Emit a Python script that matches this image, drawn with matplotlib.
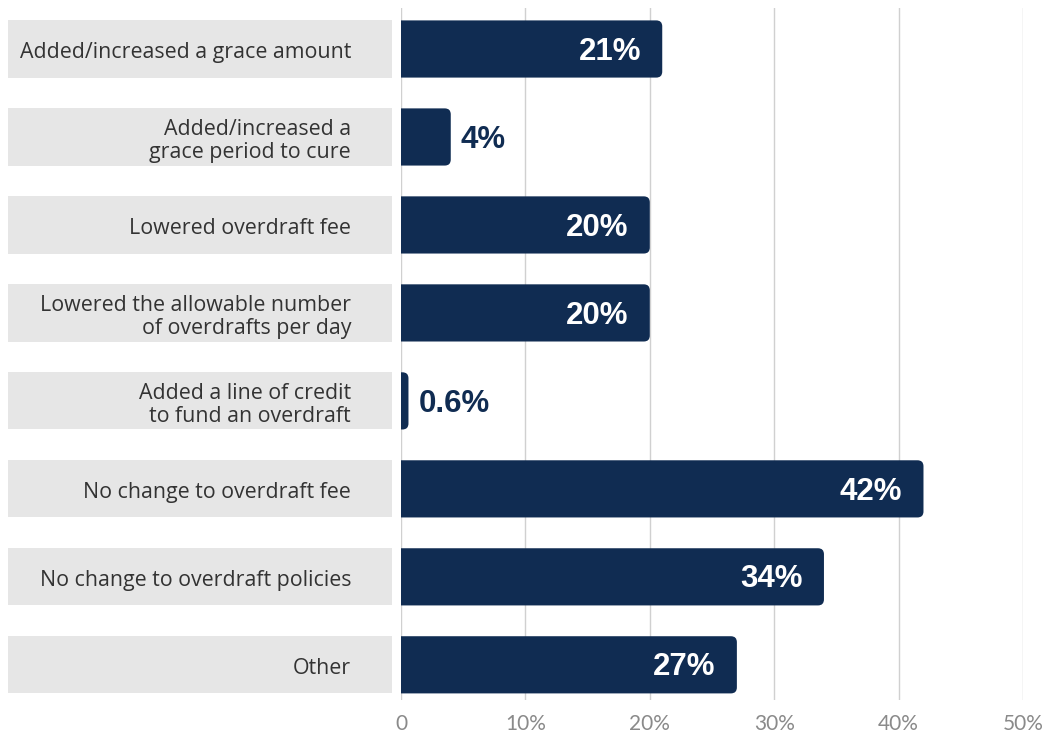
import matplotlib
matplotlib.use("Agg")
import matplotlib.pyplot as plt
from matplotlib.patches import PathPatch, Rectangle
from matplotlib.path import Path

categories = [
    "Added/increased a grace amount",
    "Added/increased a\ngrace period to cure",
    "Lowered overdraft fee",
    "Lowered the allowable number\nof overdrafts per day",
    "Added a line of credit\nto fund an overdraft",
    "No change to overdraft fee",
    "No change to overdraft policies",
    "Other",
]
values = [21, 4, 20, 20, 0.6, 42, 34, 27]
value_labels = ["21%", "4%", "20%", "20%", "0.6%", "42%", "34%", "27%"]
xticks = [0, 10, 20, 30, 40, 50]
xtick_labels = ["0", "10%", "20%", "30%", "40%", "50%"]

navy = "#102c52"
box_grey = "#e6e6e6"

W, H = 1052, 737
fig = plt.figure(figsize=(W / 100, H / 100), dpi=100)
# axes span: x from 401 to 1023 px, y from 8 to 700 px
ax = fig.add_axes([401 / W, (H - 700) / H, 622 / W, 692 / H])

bar_h = 0.65
ax.set_xlim(0, 50)
ax.set_ylim(7.40, -0.466)

# corner radius about 6 px in both directions
rx = 6 * 50 / 622
ry = 6 / 88


def rounded_bar(v, y):
    # square on the left, rounded corners on the right
    y0, y1 = y - bar_h / 2, y + bar_h / 2
    c = min(rx, v)
    verts = [(0, y0), (v - c, y0), (v, y0), (v, y0 + ry), (v, y1 - ry),
             (v, y1), (v - c, y1), (0, y1), (0, y0)]
    codes = [Path.MOVETO, Path.LINETO, Path.CURVE3, Path.CURVE3, Path.LINETO,
             Path.CURVE3, Path.CURVE3, Path.LINETO, Path.CLOSEPOLY]
    return PathPatch(Path(verts, codes), fc=navy, ec="none", zorder=3)


tr = ax.get_yaxis_transform()
ypos = list(range(len(categories)))
for y, v, lab, cat in zip(ypos, values, value_labels, categories):
    ax.add_patch(rounded_bar(v, y))

    if v >= 10:
        ax.text(v - 1.7, y + 0.03, lab, ha="right", va="center", color="white",
                fontsize=22.5, fontweight="bold", family="Liberation Sans", zorder=4)
    else:
        ax.text(v + 0.8, y + 0.03, lab, ha="left", va="center", color=navy,
                fontsize=22.5, fontweight="bold", family="Liberation Sans", zorder=4)

    # grey label box on the left
    ax.add_patch(Rectangle((-393 / 622, y - bar_h / 2), 384 / 622, bar_h, transform=tr,
                           fc=box_grey, ec="none", clip_on=False))
    ax.text(-50 / 622, y + 0.045, cat, transform=tr, ha="right", va="center",
            multialignment="right", color="#333333", fontsize=15.4,
            family="Open Sans", linespacing=1.1)

ax.set_xticks(xticks)
ax.set_xticklabels(xtick_labels, family="Lato", fontsize=15, color="#8a8a8a")
ax.set_yticks([])
ax.tick_params(axis="x", length=0, pad=10)
ax.grid(axis="x", color="#d0d0d0", linewidth=1)
ax.set_axisbelow(True)
for s in ax.spines.values():
    s.set_visible(False)

fig.savefig("out.png", dpi=100)
